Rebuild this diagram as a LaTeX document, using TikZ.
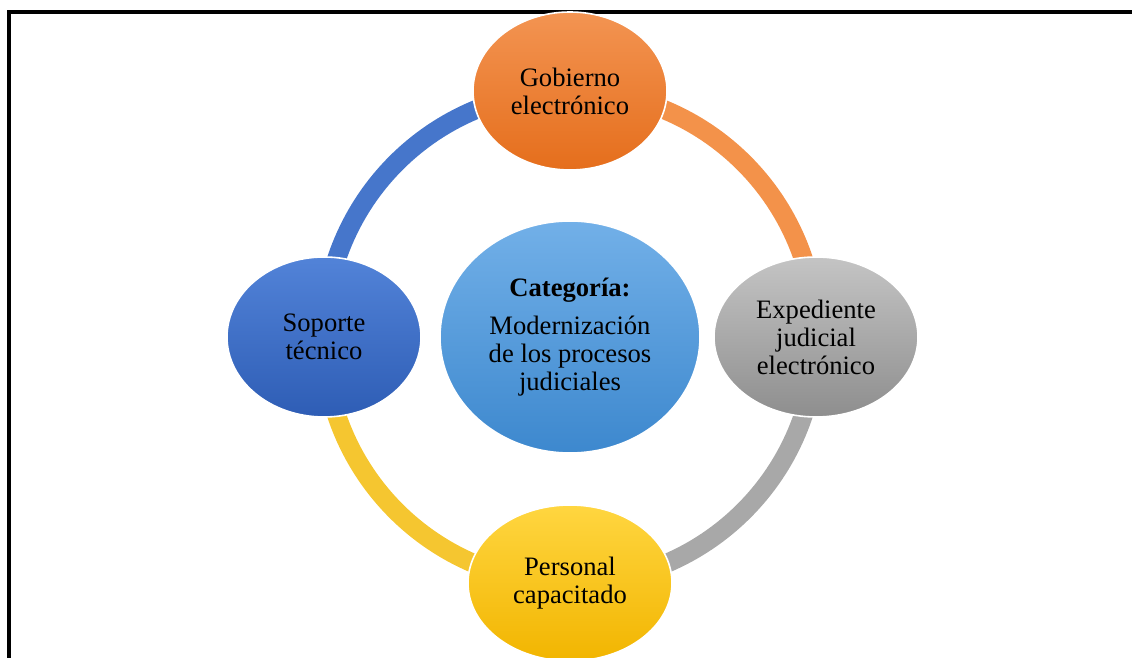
\documentclass[tikz,border=0pt]{standalone}
\usepackage{fontspec}
\setmainfont{Liberation Serif}
\usetikzlibrary{shapes.geometric,backgrounds}
\definecolor{orangetop}{HTML}{F39452}
\definecolor{orangebot}{HTML}{E56E1C}
\definecolor{graytop}{HTML}{C4C4C4}
\definecolor{graybot}{HTML}{8E8E8E}
\definecolor{bluetop}{HTML}{5283D8}
\definecolor{bluebot}{HTML}{2E5DB5}
\definecolor{yellowtop}{HTML}{FFD640}
\definecolor{yellowbot}{HTML}{F2B500}
\definecolor{skytop}{HTML}{72B0E8}
\definecolor{skybot}{HTML}{3D88CE}
\definecolor{ringblue}{HTML}{4676CB}
\definecolor{ringorange}{HTML}{F3924A}
\definecolor{ringgray}{HTML}{A8A8A8}
\definecolor{ringyellow}{HTML}{F5C630}
\tikzset{ball/.style={ellipse, draw=white, line width=0.8pt, align=center, inner sep=0pt,
    font=\fontsize{13.3}{14}\selectfont},
  ring/.style={line width=9.5pt}}

\begin{document}
\begin{tikzpicture}[x=0.5pt,y=0.5pt]
\useasboundingbox (0,0) rectangle (1132,658);
\draw[line width=2pt] (9,-20) |- (1150,646);
\node[ball, minimum width=97pt, minimum height=79pt, top color=orangetop, bottom color=orangebot] (gob) at (570,567) {Gobierno\\electrónico};
\node[ball, minimum width=102pt, minimum height=80pt, top color=graytop, bottom color=graybot] (exp) at (816,321) {Expediente\\judicial\\electrónico};
\node[ball, minimum width=97pt, minimum height=80pt, top color=bluetop, bottom color=bluebot] (sop) at (324,321) {Soporte\\técnico};
\node[ball, minimum width=102pt, minimum height=78pt, top color=yellowtop, bottom color=yellowbot] (per) at (570,75) {Personal\\capacitado};
\node[ball, minimum width=130pt, minimum height=116pt, top color=skytop, bottom color=skybot] (cat) at (570,321) {\textbf{Categoría:}\\[5pt]Modernización\\de los procesos\\judiciales};
\begin{scope}[on background layer]
\draw[ring, draw=ringblue] (sop.center) arc[start angle=180, end angle=90, radius=246];
\draw[ring, draw=ringorange] (gob.center) arc[start angle=90, end angle=0, radius=246];
\draw[ring, draw=ringgray] (exp.center) arc[start angle=0, end angle=-90, radius=246];
\draw[ring, draw=ringyellow] (per.center) arc[start angle=-90, end angle=-180, radius=246];
\end{scope}
\end{tikzpicture}
\end{document}
